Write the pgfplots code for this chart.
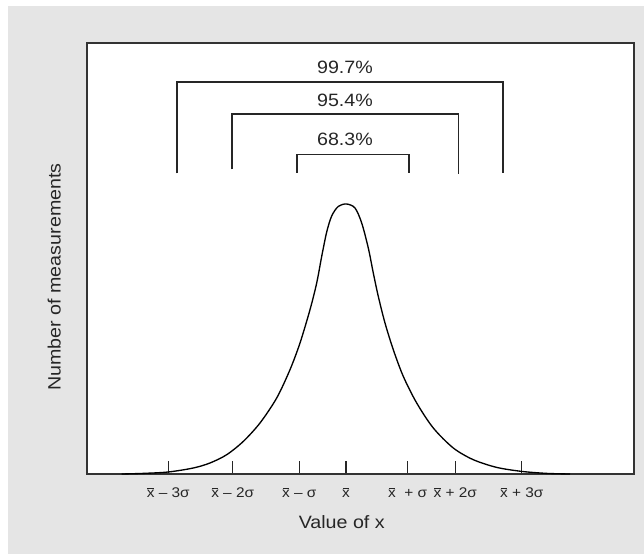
\documentclass[border=0pt]{standalone}
\usepackage{fontspec}
\setmainfont{Liberation Sans}[FakeStretch=1.1]
\usepackage{pgfplots}
\pgfplotsset{compat=1.18}
\usetikzlibrary{backgrounds}
\definecolor{bg}{RGB}{229,229,229}
\newcommand\xb{{\ooalign{x\cr\hfil\rule[0.63em]{0.46em}{0.065em}\hfil\cr}}}
\newcommand\bigf{\fontsize{13.4}{16}\selectfont}
\begin{document}
\begin{tikzpicture}
\begin{axis}[
  x=0.75pt, y=0.75pt,
  xmin=86.7, xmax=634, ymin=0, ymax=431,
  clip=false,
  axis background/.style={fill=white},
  axis line style={black!80, line width=1.3pt},
  ytick=\empty,
  xtick={168.3,232.7,299.3,346,407.7,455.3,521.7},
  xticklabels={{\xb\ – 3σ},{\xb\ – 2σ},{\xb\ – σ},{\xb},{\xb\ \ + σ},{\xb\ + 2σ},{\xb\ + 3σ}},
  xtick pos=bottom,
  tick align=inside,
  major tick length=10pt,
  tick style={black!85, line width=1pt},
  xticklabel style={font=\fontsize{10.5}{12}\selectfont, text=black!85, anchor=base, yshift=-18pt},
  xlabel={Value of x},
  xlabel style={font=\bigf, text=black!85, at={(axis description cs:0.466,-0.1276)}, anchor=base},
  ylabel={Number of measurements},
  ylabel style={font=\bigf, text=black!85, at={(axis description cs:-0.0475,0.457)}, anchor=base},
]
\coordinate (TL) at (axis cs:0,474);
\coordinate (BR) at (axis cs:644,-80);
\coordinate (G) at (axis cs:8,468);
\addplot[black, line width=1pt, smooth, tension=0.5] coordinates {
(121.7,0) (143,0.6) (168.3,2) (193.3,6) (210,11) (226.7,19.3) (243.3,32.6)
(260,51) (276.7,76) (290,104.3) (300,131) (310,164.3) (316.7,191)
(321.7,217.6) (326.7,242) (331.7,258) (338.3,267.6) (346.5,270)
(355,266) (361.7,251) (368.3,226) (373.3,201) (378.3,177.6) (385,151)
(393.3,124.3) (403.3,97.6) (416.7,71) (433.3,46) (453.3,26) (473.3,14.3)
(496.7,6.6) (521.7,2.6) (546.7,0.6) (570,0)};
\addplot[black!85, line width=0.8pt, sharp plot] coordinates {(177,300.5) (177,392) (503,392) (503,300.5)};
\addplot[black!85, line width=0.8pt, sharp plot] coordinates {(232,304.5) (232,360) (458.7,360) (458.7,300)};
\addplot[black!85, line width=0.8pt, sharp plot] coordinates {(297,301.3) (297,319.7) (409,319.7) (409,301.3)};
\node[font=\bigf, text=black!85, anchor=base] at (axis cs:345,400) {99.7\%};
\node[font=\bigf, text=black!85, anchor=base] at (axis cs:345,367.3) {95.4\%};
\node[font=\bigf, text=black!85, anchor=base] at (axis cs:345,328.3) {68.3\%};
\end{axis}
\begin{scope}[on background layer]
\fill[bg] (G) rectangle (BR);
\end{scope}
\useasboundingbox (TL) rectangle (BR);
\end{tikzpicture}
\end{document}
